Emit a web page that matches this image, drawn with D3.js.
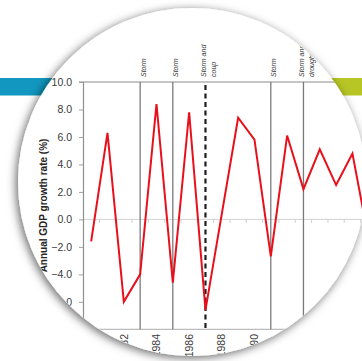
<!DOCTYPE html>
<html><head><meta charset="utf-8">
<script src="https://cdn.jsdelivr.net/npm/d3@7/dist/d3.min.js"></script>
<style>html,body{margin:0;padding:0;background:#fff;}svg{display:block;}</style>
</head><body>
<script>
// ---- data ----
const years = [1980,1981,1982,1983,1984,1985,1986,1987,1988,1989,1990,1991,1992,1993,1994,1995,1996,1997];
const gdpGrowth = [-1.6, 6.3, -6.0, -4.0, 8.4, -4.6, 7.8, -6.6, 0.4, 7.4, 5.8, -2.7, 6.1, 2.2, 5.1, 2.5, 4.8, -1.5];
const yTickValues = [-8, -6, -4, -2, 0, 2, 4, 6, 8, 10];
const xTickLabels = [1980, 1982, 1984, 1986, 1988, 1990, 1992, 1994, 1996];
const eventYears = [1983, 1985, 1987, 1991, 1993];
const eventLabels = [["Storm"], ["Storm"], ["Storm and", "coup"], ["Storm"], ["Storm and", "drought"]];
const eventDashed = [false, false, true, false, false];
const yTitle = "Annual GDP growth rate (%)";

const W = 362, H = 361;
const svg = d3.select("body").append("svg").attr("width", W).attr("height", H);
const defs = svg.append("defs");
const f = defs.append("filter").attr("id","sh").attr("x","-20%").attr("y","-20%").attr("width","140%").attr("height","140%");
f.append("feDropShadow").attr("dx",-2).attr("dy",2).attr("stdDeviation",5).attr("flood-color","#000").attr("flood-opacity",0.6);

const cx = 192, cy = 182, r = 174;
defs.append("clipPath").attr("id","lens").append("circle").attr("cx",cx).attr("cy",cy).attr("r",r);

svg.append("rect").attr("width",W).attr("height",H).attr("fill","#fff");
svg.append("rect").attr("x",0).attr("y",78).attr("width",200).attr("height",17.5).attr("fill","#1197c0");
svg.append("rect").attr("x",260).attr("y",78).attr("width",102).attr("height",17.5).attr("fill","#b7c625");
svg.append("circle").attr("cx",cx).attr("cy",cy).attr("r",r).attr("fill","#fff").attr("filter","url(#sh)");

const g = svg.append("g").attr("clip-path","url(#lens)");

const step = 16.33;
const x = d3.scaleBand().domain(years).range([83, 83 + years.length * step]).paddingInner(0).paddingOuter(0);
const y = d3.scaleLinear().domain([-8, 10]).range([329.3, 82]);
const xc = d => x(d) + x.bandwidth() / 2;
const x0 = 83, x1 = 83 + years.length * step + 40;

// zero line with between-category ticks
g.append("line").attr("x1",x0).attr("x2",x1).attr("y1",y(0)).attr("y2",y(0)).attr("stroke","#d2d2d2").attr("stroke-width",1);
g.selectAll(".zt").data(years).enter().append("line")
  .attr("x1",d=>x(d)+x.bandwidth()).attr("x2",d=>x(d)+x.bandwidth())
  .attr("y1",y(0)).attr("y2",y(0)+3.5).attr("stroke","#cfcfcf").attr("stroke-width",1);

// top line (10.0) and bottom line
g.append("line").attr("x1",79).attr("x2",x1).attr("y1",y(10)).attr("y2",y(10)).attr("stroke","#8a8a8a").attr("stroke-width",1);
g.append("line").attr("x1",x0).attr("x2",x1).attr("y1",y(-8)).attr("y2",y(-8)).attr("stroke","#bdbdbd").attr("stroke-width",1.2);

// y axis
const yAxis = d3.axisLeft(y).tickValues(yTickValues).tickSize(4).tickFormat(d3.format(".1f"));
const ya = g.append("g").attr("transform",`translate(${x0},0)`).call(yAxis);
ya.select(".domain").attr("stroke","#8f8f8f").attr("stroke-width",1.2);
ya.selectAll(".tick line").attr("stroke","#a0a0a0");
ya.selectAll(".tick text").attr("x",-11).attr("fill","#3a3a3a")
  .style("font-family","Liberation Sans, Arial, sans-serif").style("font-size","10.5px");

// y title
g.append("text").attr("transform",`translate(47.3,205.5) rotate(-90)`).attr("text-anchor","middle")
  .style("font-family","Liberation Sans, Arial, sans-serif").style("font-size","10px").style("font-weight","bold")
  .attr("fill","#262626").text(yTitle);

// x labels
g.selectAll(".xl").data(xTickLabels).enter().append("text")
  .attr("transform",d=>`translate(${xc(d)},334) rotate(-90)`).attr("text-anchor","end").attr("dy","0.35em")
  .style("font-family","Liberation Sans, Arial, sans-serif").style("font-size","10.5px").attr("fill","#3a3a3a")
  .text(d=>d);

// event lines
eventYears.forEach((yr,i)=>{
  const ex = xc(yr);
  const ln = g.append("line").attr("x1",ex).attr("x2",ex).attr("y1",y(10)).attr("y2",y(-8));
  if (eventDashed[i]) ln.attr("stroke","#1e1e1e").attr("stroke-width",2.2).attr("stroke-dasharray","5,3.5").attr("y1",y(10)+3);
  else ln.attr("stroke","#7a7a7a").attr("stroke-width",1.3);
  const lines = eventLabels[i];
  const lh = 10;
  const startX = ex + 3 - (lines.length - 1) * lh / 2;
  lines.forEach((t,j)=>{
    g.append("text").attr("transform",`translate(${startX + j*lh},77) rotate(-90)`).attr("dy","0.35em")
      .attr("text-anchor","start").style("font-family","Liberation Sans, Arial, sans-serif")
      .style("font-size","7px").style("font-style","italic").attr("fill","#333").text(t);
  });
});

// data line
const line = d3.line().x((d,i)=>xc(years[i])).y(d=>y(d));
g.append("path").datum(gdpGrowth).attr("d",line).attr("fill","none").attr("stroke","#e8101a")
  .attr("stroke-width",2).attr("stroke-linejoin","miter");
</script>
</body></html>
